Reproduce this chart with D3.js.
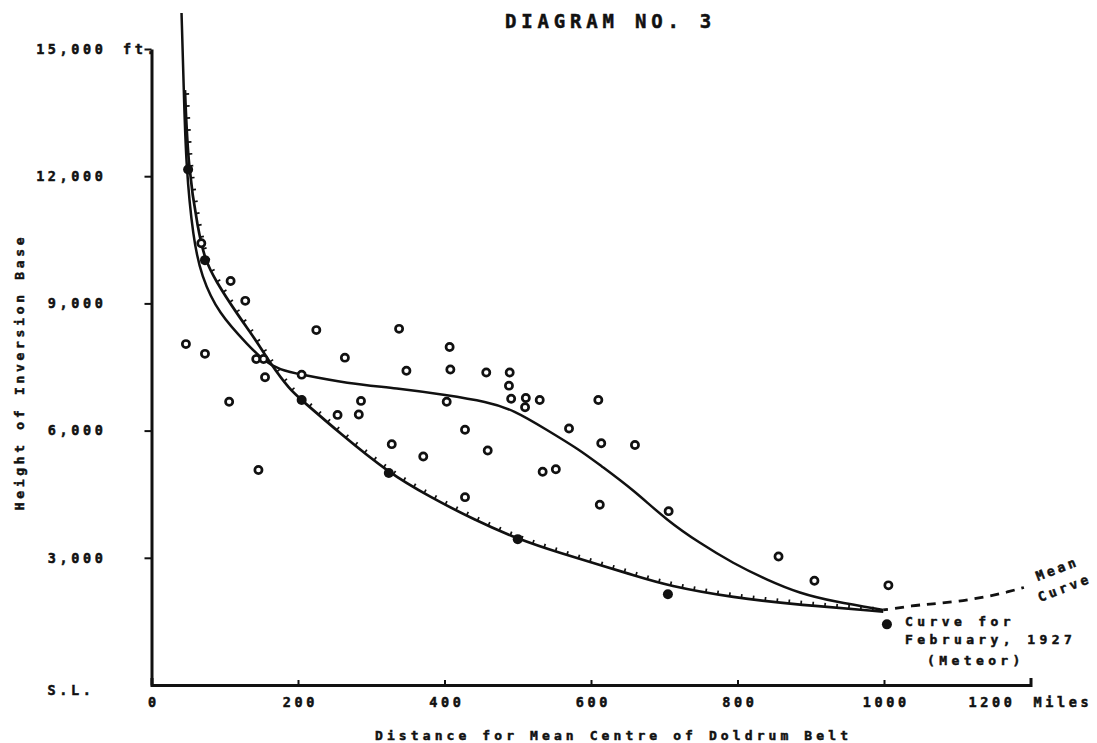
<!DOCTYPE html>
<html>
<head>
<meta charset="utf-8">
<script src="https://cdn.jsdelivr.net/npm/d3@7"></script>
<style>
  body { margin: 0; background: #fff; }
  svg { display: block; }
  text { font-family: "DejaVu Sans Mono", "Liberation Mono", monospace; font-weight: bold; fill: #111; stroke: #111; stroke-width: 0.5; }
</style>
</head>
<body>
<div id="chart"></div>
<script>
// axis ticks
const xTicks = [0, 200, 400, 600, 800, 1000];
const yTicks = [0, 3000, 6000, 9000, 12000, 15000];

// mean curve (solid part)
const meanMiles = [41, 44, 47, 57, 68, 91, 134, 152, 175, 205, 266, 335, 403, 458, 494, 540, 585, 612, 658, 703, 749, 794, 840, 885, 931, 999];
const meanFt    = [15850, 14100, 12250, 10500, 9650, 8770, 7980, 7665, 7430, 7320, 7115, 7000, 6840, 6680, 6490, 6015, 5540, 5190, 4600, 3890, 3340, 2870, 2480, 2160, 1970, 1770];

// dashed continuation of the mean curve
const extMiles = [999, 1017, 1038, 1058, 1076, 1099, 1122, 1145, 1168, 1191];
const extFt    = [1770, 1810, 1870, 1900, 1930, 1970, 2030, 2100, 2190, 2300];

// curve for February 1927 (Meteor)
const febMiles = [45.7, 50, 63.5, 73, 87, 116, 144, 162, 189, 205, 257, 324, 380, 440, 500, 560, 612, 658, 705, 794, 885, 999];
const febFt    = [14030, 12200, 10730, 10030, 9550, 8770, 8100, 7590, 6960, 6720, 5940, 5000, 4440, 3900, 3440, 3100, 2830, 2590, 2340, 2060, 1890, 1730];

// observations (open circles)
const openMiles = [47, 68, 73, 106, 108, 128, 143, 146, 153, 155, 205, 225, 254, 264, 283, 286, 328, 338, 348, 371, 403, 407, 408, 428, 428, 457, 459, 488, 489, 491, 510, 511, 530, 534, 552, 570, 610, 612, 614, 660, 706, 856, 905, 1006];
const openFt    = [8040, 10420, 7810, 6680, 9530, 9060, 7690, 5070, 7690, 7260, 7320, 8370, 6370, 7720, 6380, 6700, 5680, 8400, 7410, 5390, 6680, 7970, 7440, 4430, 6020, 7370, 5530, 7060, 7370, 6750, 6550, 6770, 6720, 5030, 5090, 6050, 6720, 4250, 5700, 5660, 4100, 3030, 2460, 2350];

// Meteor observations (filled dots)
const metMiles = [50, 73, 205, 324, 500, 705, 1004];
const metFt    = [12160, 10020, 6720, 5000, 3440, 2140, 1430];

const W = 1097, H = 743;
const svg = d3.select("#chart").append("svg")
    .attr("width", W).attr("height", H)
    .attr("viewBox", `0 0 ${W} ${H}`);

svg.append("rect").attr("width", W).attr("height", H).attr("fill", "#fff");

const x = d3.scaleLinear().domain([0, 1200]).range([151.5, 1030.5]);
const y = d3.scaleLinear().domain([0, 15000]).range([685, 49]);

const pts = (ms, fs) => ms.map((m, i) => [x(m), y(fs[i])]);
const line = d3.line().curve(d3.curveBasis);

// title
svg.append("text")
    .attr("x", 505).attr("y", 28)
    .attr("font-size", 19).attr("letter-spacing", 4.8)
    .attr("stroke-width", 0.7)
    .text("DIAGRAM NO. 3");

// x axis
const xAxis = svg.append("g")
    .attr("transform", `translate(0,${y(0)})`)
    .call(d3.axisBottom(x).tickValues(xTicks).tickSize(-5).tickSizeOuter(-7).tickPadding(12).tickFormat(d => d));
xAxis.select(".domain").attr("stroke-width", 3).attr("stroke", "#111");
xAxis.selectAll(".tick line").attr("stroke-width", 2).attr("stroke", "#111");
xAxis.selectAll(".tick text")
    .attr("font-size", 13.5).attr("letter-spacing", 3.6).attr("dx", 1.8)
    .style("font-family", "DejaVu Sans Mono").style("font-weight", "bold").attr("fill", "#111");

svg.append("text")
    .attr("x", x(1200) - 62).attr("y", 707)
    .attr("font-size", 13.5).attr("letter-spacing", 3.6)
    .text("1200");
svg.append("text")
    .attr("x", x(1200) + 3).attr("y", 707)
    .attr("font-size", 13.5).attr("letter-spacing", 3.6)
    .text("Miles");

// y axis
const yAxis = svg.append("g")
    .attr("transform", `translate(${x(0)},0)`)
    .call(d3.axisLeft(y).tickValues(yTicks).tickSize(7).tickSizeOuter(0).tickPadding(38)
        .tickFormat(d => d === 0 ? "S.L." : d3.format(",")(d)));
yAxis.select(".domain").attr("stroke-width", 3).attr("stroke", "#111");
yAxis.selectAll(".tick line").attr("stroke-width", 2).attr("stroke", "#111");
yAxis.selectAll(".tick line").filter(d => d === 0).remove();
yAxis.selectAll(".tick text")
    .attr("font-size", 13.5).attr("letter-spacing", 3.6)
    .style("font-family", "DejaVu Sans Mono").style("font-weight", "bold").attr("fill", "#111")
    .attr("dx", d => d === 0 ? -12 : 0)
    .attr("dy", d => d === 0 ? "0.7em" : "0.32em");

svg.append("text")
    .attr("x", 123).attr("y", y(15000) + 4.5)
    .attr("font-size", 13.5).attr("letter-spacing", 3.6)
    .text("ft.");

// axis titles
svg.append("text")
    .attr("x", 375).attr("y", 740)
    .attr("font-size", 13).attr("letter-spacing", 4.1)
    .text("Distance for Mean Centre of Doldrum Belt");

svg.append("text")
    .attr("transform", "translate(24,372) rotate(-90)")
    .attr("text-anchor", "middle")
    .attr("font-size", 13).attr("letter-spacing", 3.7)
    .text("Height of Inversion Base");

// mean curve
svg.append("path")
    .attr("d", line(pts(meanMiles, meanFt)))
    .attr("fill", "none").attr("stroke", "#111").attr("stroke-width", 2.5);

svg.append("path")
    .attr("d", line(pts(extMiles, extFt)))
    .attr("fill", "none").attr("stroke", "#111").attr("stroke-width", 2.8)
    .attr("stroke-dasharray", "9,7").attr("stroke-dashoffset", -12);

// February curve with its small hatch ticks
const feb = svg.append("path")
    .attr("d", line(pts(febMiles, febFt)))
    .attr("fill", "none").attr("stroke", "#111").attr("stroke-width", 2.7);

const node = feb.node();
const total = node.getTotalLength();
const hatch = [];
for (let l = 4; l < total - 6; l += 12) {
    const p = node.getPointAtLength(l);
    const q = node.getPointAtLength(l + 1);
    const dx = q.x - p.x, dy = q.y - p.y, n = Math.hypot(dx, dy) || 1;
    hatch.push({ x1: p.x, y1: p.y, x2: p.x + 4 * dy / n, y2: p.y - 4 * dx / n });
}
svg.append("g").selectAll("line")
    .data(hatch)
    .join("line")
    .attr("x1", d => d.x1).attr("y1", d => d.y1)
    .attr("x2", d => d.x2).attr("y2", d => d.y2)
    .attr("stroke", "#111").attr("stroke-width", 1.7);

// observations
svg.append("g").selectAll("circle")
    .data(openMiles.map((m, i) => [m, openFt[i]]))
    .join("circle")
    .attr("cx", d => x(d[0])).attr("cy", d => y(d[1]))
    .attr("r", 3.6)
    .attr("fill", "#fff").attr("stroke", "#111").attr("stroke-width", 2.7);

svg.append("g").selectAll("circle")
    .data(metMiles.map((m, i) => [m, metFt[i]]))
    .join("circle")
    .attr("cx", d => x(d[0])).attr("cy", d => y(d[1]))
    .attr("r", 5)
    .attr("fill", "#111");

// annotations
const note = svg.append("text")
    .attr("font-size", 13).attr("letter-spacing", 4.4);
note.append("tspan").attr("x", 905).attr("y", 626).text("Curve for");
note.append("tspan").attr("x", 905).attr("y", 644).text("February, 1927");
note.append("tspan").attr("x", 927).attr("y", 665).text("(Meteor)");

svg.append("text")
    .attr("transform", "translate(1038,581) rotate(-21)")
    .attr("font-size", 13).attr("letter-spacing", 3.4)
    .text("Mean");
svg.append("text")
    .attr("transform", "translate(1040,602) rotate(-21)")
    .attr("font-size", 13).attr("letter-spacing", 3.4)
    .text("Curve");
</script>
</body>
</html>
